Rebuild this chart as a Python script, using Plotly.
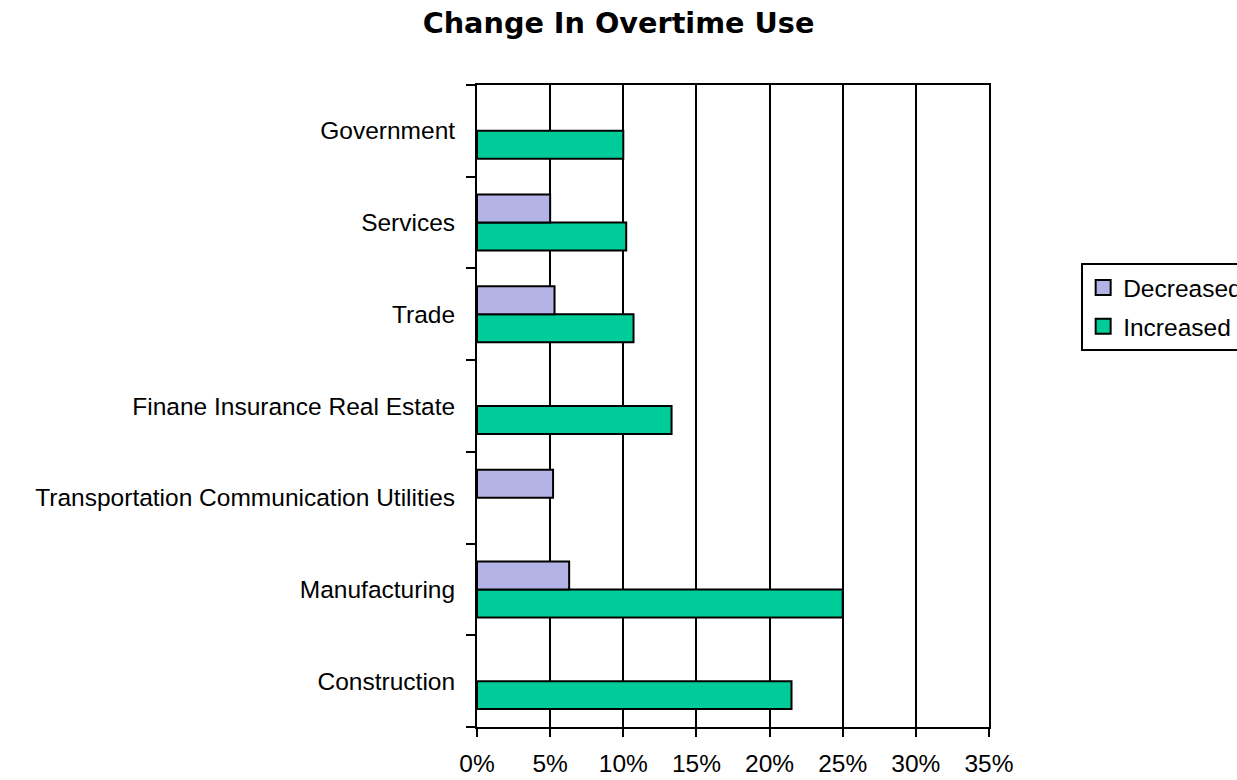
import plotly.graph_objects as go

# Industry sectors, bottom to top
sectors = [
    "Construction",
    "Manufacturing",
    "Transportation Communication Utilities",
    "Finane Insurance Real Estate",
    "Trade",
    "Services",
    "Government",
]
# Share of firms reporting a change in overtime use (percent)
increased = [21.5, 25.0, None, 13.3, 10.7, 10.2, 10.0]
decreased = [None, 6.3, 5.2, None, 5.3, 5.0, None]

x_ticks = [0, 5, 10, 15, 20, 25, 30, 35]

series_colors = {"Decreased": "#B3B3E6", "Increased": "#00CC99"}

label_font = "Liberation Sans"
title_font = "DejaVu Sans"


def as_fraction(values):
    return [v / 100 if v is not None else None for v in values]


fig = go.Figure()
# Increased is added first so that it sits below Decreased within each group
fig.add_trace(go.Bar(
    y=sectors, x=as_fraction(increased),
    orientation="h", name="Increased", showlegend=False,
    marker=dict(color=series_colors["Increased"], line=dict(color="black", width=2)),
))
fig.add_trace(go.Bar(
    y=sectors, x=as_fraction(decreased),
    orientation="h", name="Decreased", showlegend=False,
    marker=dict(color=series_colors["Decreased"], line=dict(color="black", width=2)),
))

# Legend entries with larger square swatches
for name in ["Decreased", "Increased"]:
    fig.add_trace(go.Scatter(
        x=[None], y=[None], mode="markers", name=name, legendgroup=name,
        marker=dict(symbol="square", size=15, color=series_colors[name],
                    line=dict(color="black", width=2)),
        showlegend=True,
    ))

fig.update_layout(
    width=1237, height=780,
    paper_bgcolor="white", plot_bgcolor="white",
    barmode="group", bargap=0.39, bargroupgap=0,
    margin=dict(l=477, r=248, t=85, b=53, autoexpand=False),
    title=dict(
        text="<b>Change In Overtime Use</b>",
        x=0.5, xanchor="center", xref="container",
        y=0.97, yanchor="middle",
        font=dict(family=title_font, size=28.7, color="black"),
    ),
    font=dict(family=label_font, size=24.5, color="black"),
    legend=dict(
        x=1.18, xanchor="left", y=0.7227, yanchor="top",
        traceorder="grouped", tracegroupgap=4,
        bordercolor="black", borderwidth=2, bgcolor="white",
        font=dict(family=label_font, size=24.5, color="black"),
        itemwidth=30,
    ),
    showlegend=True,
)

fig.update_xaxes(
    range=[0, 0.35],
    tickvals=[t / 100 for t in x_ticks],
    ticktext=[f"{t}%" for t in x_ticks],
    showgrid=True, gridcolor="black", gridwidth=2,
    showline=True, linecolor="black", linewidth=2, mirror=True,
    ticks="outside", ticklen=8, tickwidth=2, tickcolor="black",
    tickfont=dict(family=label_font, size=24.5, color="black"),
    ticklabelstandoff=6,
    zeroline=False,
)
fig.update_yaxes(
    categoryorder="array", categoryarray=sectors,
    range=[-0.5, len(sectors) - 0.5],
    showgrid=False,
    showline=True, linecolor="black", linewidth=2, mirror=True,
    ticks="outside", ticklen=9, tickwidth=2, tickcolor="black",
    tickson="boundaries",
    tickfont=dict(family=label_font, size=24.5, color="black"),
    ticklabelstandoff=15,
)

fig.write_html("out.html")
